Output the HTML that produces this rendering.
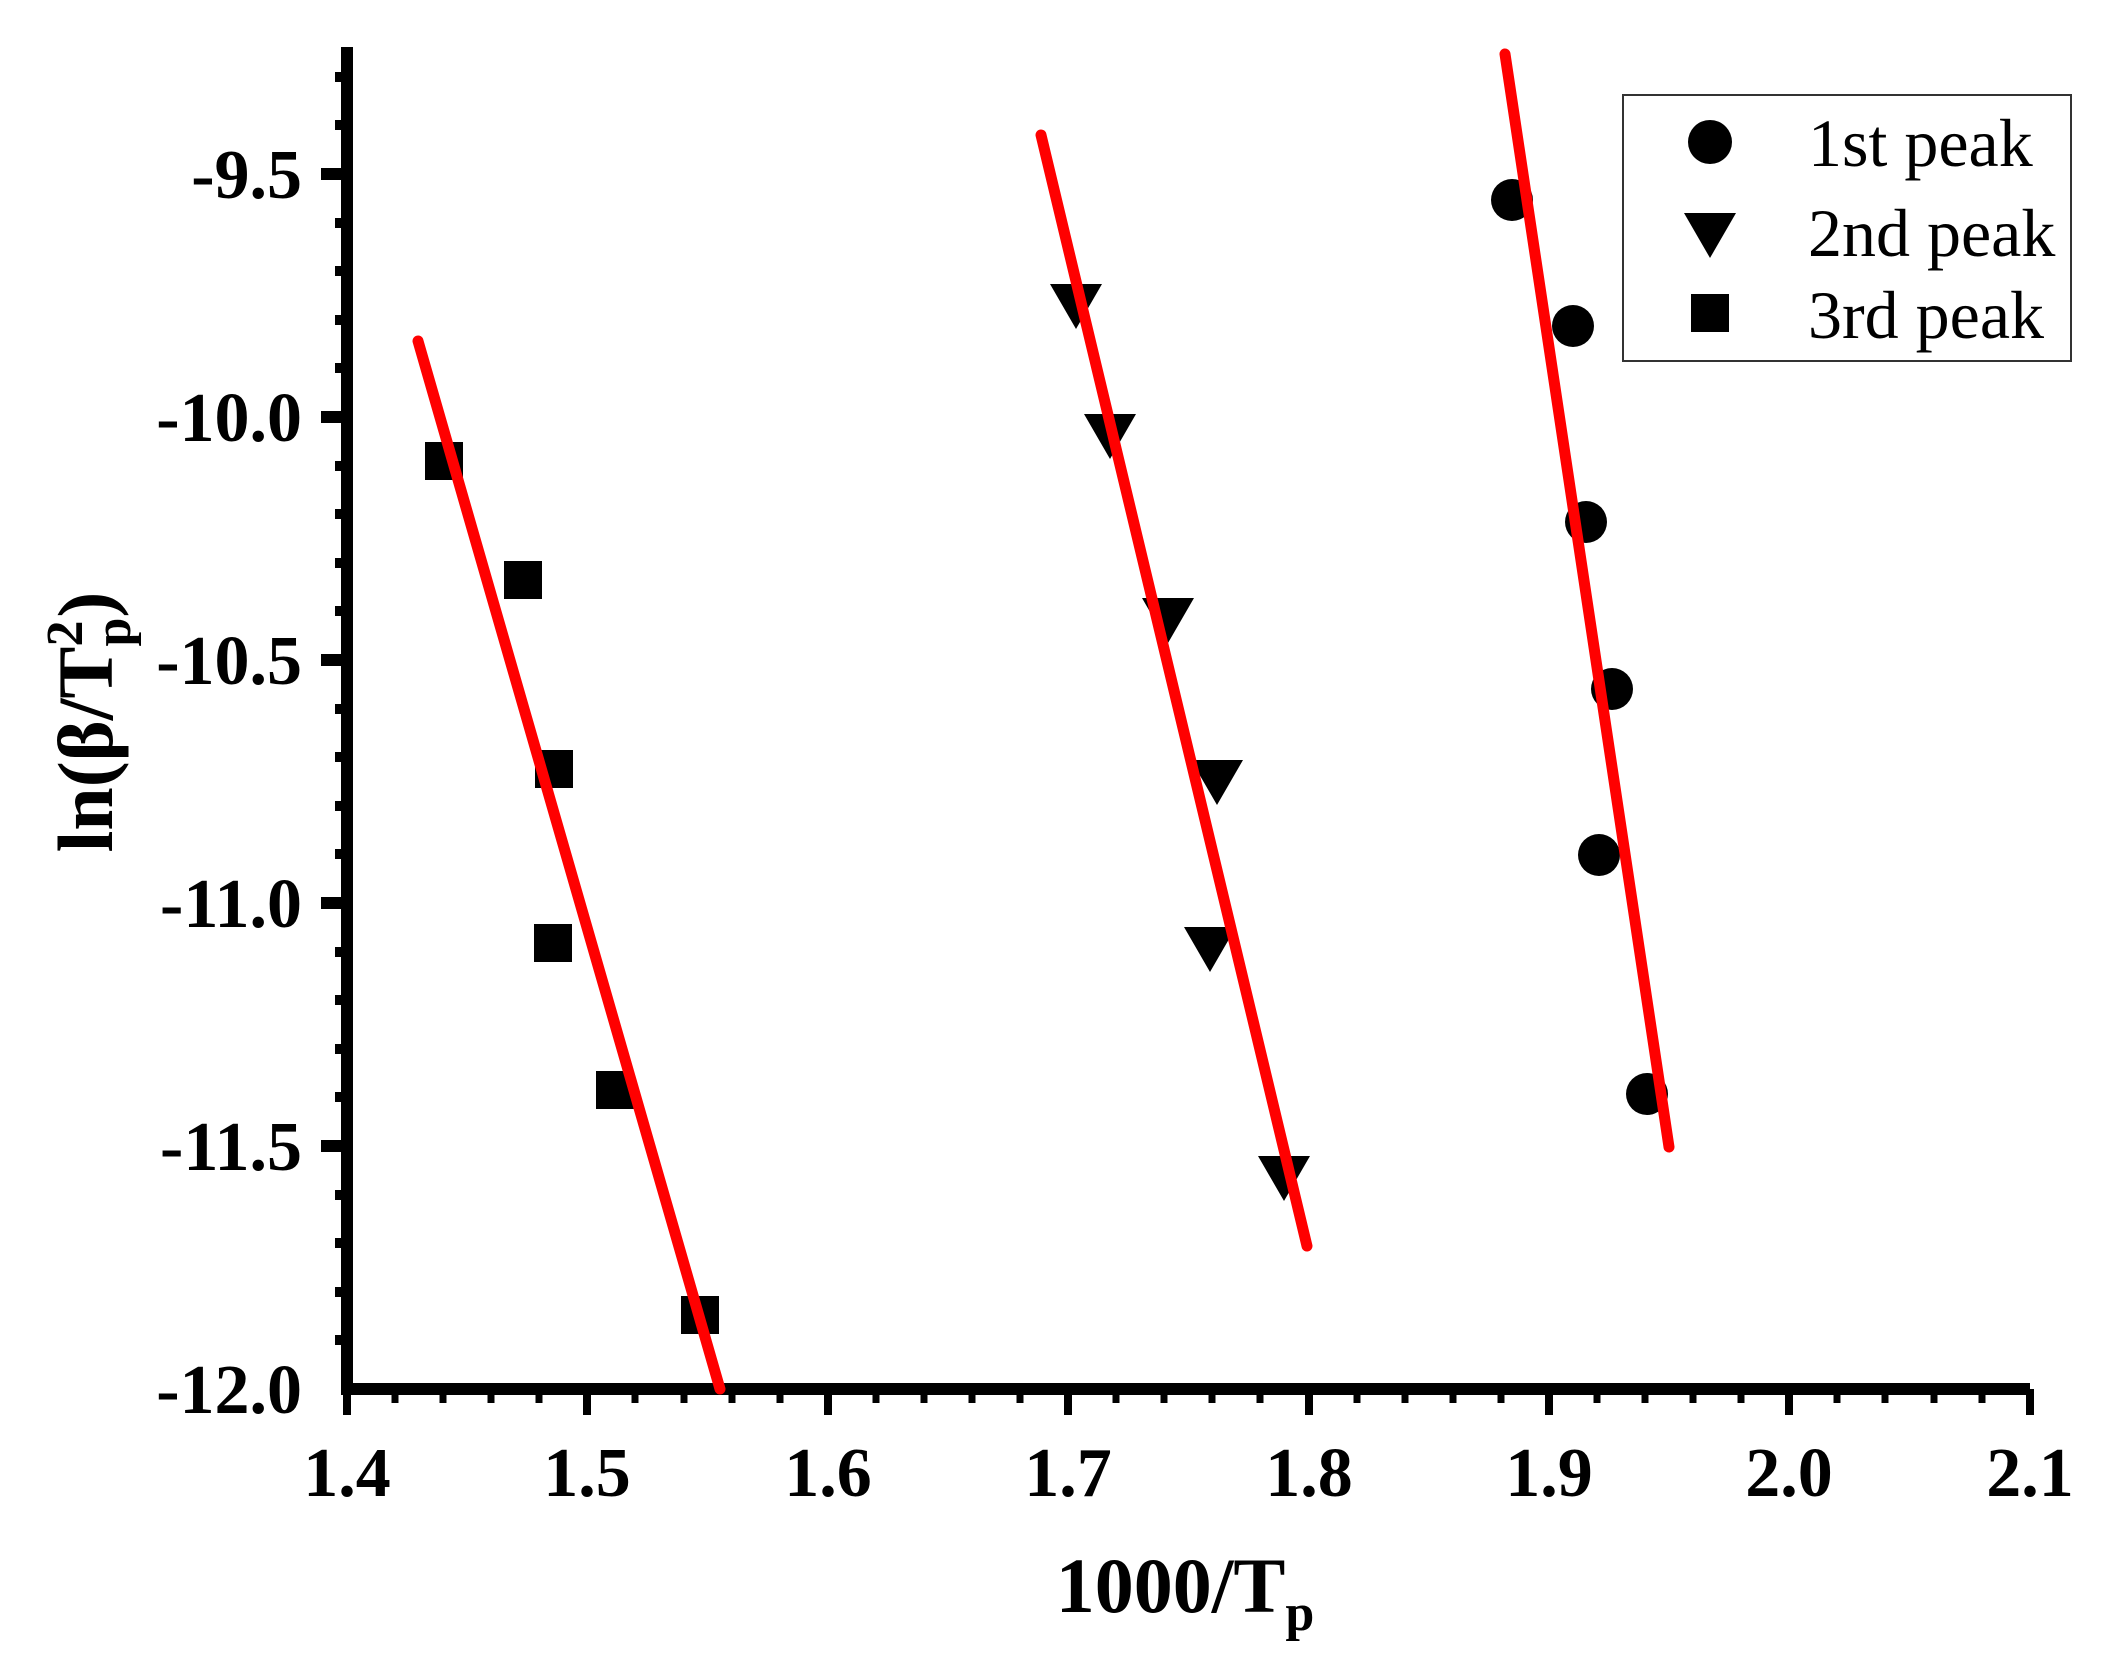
<!DOCTYPE html>
<html><head><style>html,body{margin:0;padding:0;background:#fff}svg{display:block}</style></head><body>
<svg width="2109" height="1654" viewBox="0 0 2109 1654" xmlns="http://www.w3.org/2000/svg" font-family="Liberation Serif, serif">
<rect width="2109" height="1654" fill="#fff"/>
<g stroke="#000">
<line x1="347" y1="47" x2="347" y2="1395" stroke-width="12"/>
<line x1="341" y1="1389" x2="2030" y2="1389" stroke-width="12"/>
<g stroke-width="12">
<line x1="321" y1="174" x2="347" y2="174"/><line x1="321" y1="417" x2="347" y2="417"/><line x1="321" y1="660" x2="347" y2="660"/><line x1="321" y1="903" x2="347" y2="903"/><line x1="321" y1="1146" x2="347" y2="1146"/>
</g>
<g stroke-width="10">
<line x1="335" y1="77" x2="347" y2="77"/><line x1="335" y1="125" x2="347" y2="125"/>
<line x1="335" y1="223" x2="347" y2="223"/><line x1="335" y1="271" x2="347" y2="271"/><line x1="335" y1="320" x2="347" y2="320"/><line x1="335" y1="368" x2="347" y2="368"/>
<line x1="335" y1="466" x2="347" y2="466"/><line x1="335" y1="514" x2="347" y2="514"/><line x1="335" y1="563" x2="347" y2="563"/><line x1="335" y1="611" x2="347" y2="611"/>
<line x1="335" y1="709" x2="347" y2="709"/><line x1="335" y1="757" x2="347" y2="757"/><line x1="335" y1="806" x2="347" y2="806"/><line x1="335" y1="854" x2="347" y2="854"/>
<line x1="335" y1="952" x2="347" y2="952"/><line x1="335" y1="1000" x2="347" y2="1000"/><line x1="335" y1="1049" x2="347" y2="1049"/><line x1="335" y1="1097" x2="347" y2="1097"/>
<line x1="335" y1="1195" x2="347" y2="1195"/><line x1="335" y1="1243" x2="347" y2="1243"/><line x1="335" y1="1292" x2="347" y2="1292"/><line x1="335" y1="1340" x2="347" y2="1340"/>
</g>
<g stroke-width="8">
<line x1="347" y1="1389" x2="347" y2="1415"/><line x1="587" y1="1389" x2="587" y2="1415"/><line x1="828" y1="1389" x2="828" y2="1415"/><line x1="1068" y1="1389" x2="1068" y2="1415"/><line x1="1309" y1="1389" x2="1309" y2="1415"/><line x1="1549" y1="1389" x2="1549" y2="1415"/><line x1="1789" y1="1389" x2="1789" y2="1415"/><line x1="2030" y1="1389" x2="2030" y2="1415"/>
</g>
<g stroke-width="7">
<line x1="395" y1="1389" x2="395" y2="1403"/><line x1="443" y1="1389" x2="443" y2="1403"/><line x1="491" y1="1389" x2="491" y2="1403"/><line x1="539" y1="1389" x2="539" y2="1403"/>
<line x1="635" y1="1389" x2="635" y2="1403"/><line x1="684" y1="1389" x2="684" y2="1403"/><line x1="732" y1="1389" x2="732" y2="1403"/><line x1="780" y1="1389" x2="780" y2="1403"/>
<line x1="876" y1="1389" x2="876" y2="1403"/><line x1="924" y1="1389" x2="924" y2="1403"/><line x1="972" y1="1389" x2="972" y2="1403"/><line x1="1020" y1="1389" x2="1020" y2="1403"/>
<line x1="1116" y1="1389" x2="1116" y2="1403"/><line x1="1164" y1="1389" x2="1164" y2="1403"/><line x1="1212" y1="1389" x2="1212" y2="1403"/><line x1="1260" y1="1389" x2="1260" y2="1403"/>
<line x1="1357" y1="1389" x2="1357" y2="1403"/><line x1="1405" y1="1389" x2="1405" y2="1403"/><line x1="1453" y1="1389" x2="1453" y2="1403"/><line x1="1501" y1="1389" x2="1501" y2="1403"/>
<line x1="1597" y1="1389" x2="1597" y2="1403"/><line x1="1645" y1="1389" x2="1645" y2="1403"/><line x1="1693" y1="1389" x2="1693" y2="1403"/><line x1="1741" y1="1389" x2="1741" y2="1403"/>
<line x1="1837" y1="1389" x2="1837" y2="1403"/><line x1="1885" y1="1389" x2="1885" y2="1403"/><line x1="1934" y1="1389" x2="1934" y2="1403"/><line x1="1982" y1="1389" x2="1982" y2="1403"/>
</g>
</g>
<g font-weight="bold" font-size="70" text-anchor="end">
<text x="302" y="198">-9.5</text><text x="302" y="441">-10.0</text><text x="302" y="684">-10.5</text><text x="302" y="927">-11.0</text><text x="302" y="1170">-11.5</text><text x="302" y="1413">-12.0</text>
</g>
<g font-weight="bold" font-size="70" text-anchor="middle">
<text x="347" y="1496">1.4</text><text x="587" y="1496">1.5</text><text x="828" y="1496">1.6</text><text x="1068" y="1496">1.7</text><text x="1309" y="1496">1.8</text><text x="1549" y="1496">1.9</text><text x="1789" y="1496">2.0</text><text x="2030" y="1496">2.1</text>
</g>
<text x="1185" y="1612" font-weight="bold" font-size="78" text-anchor="middle">1000/T<tspan font-size="52" dy="18">p</tspan></text>
<text transform="translate(112,722) rotate(-90)" font-weight="bold" font-size="78" text-anchor="middle">ln(β/T<tspan font-size="52" dy="-30">2</tspan><tspan font-size="52" dx="-26" dy="48">p</tspan><tspan dy="-18">)</tspan></text>
<g fill="#000">
<circle cx="1512" cy="200" r="21"/><circle cx="1573" cy="326" r="21"/><circle cx="1586" cy="522" r="21"/><circle cx="1612" cy="689" r="21"/><circle cx="1599" cy="855" r="21"/><circle cx="1647" cy="1094" r="21"/>
<path d="M1050,284h52l-26,45z M1084,414h52l-26,45z M1142,598h52l-26,45z M1191,760h52l-26,45z M1184,927h52l-26,45z M1258,1156h52l-26,45z"/>
<rect x="425" y="442" width="38" height="38"/><rect x="504" y="561" width="38" height="38"/><rect x="535" y="750" width="38" height="38"/><rect x="534" y="924" width="38" height="38"/><rect x="596" y="1071" width="38" height="38"/><rect x="681" y="1296" width="38" height="38"/>
</g>
<g stroke="#ff0000" stroke-width="11" stroke-linecap="round">
<line x1="1505" y1="54" x2="1669" y2="1147"/>
<line x1="1041" y1="135" x2="1307" y2="1246"/>
<line x1="418" y1="341" x2="720" y2="1389"/>
</g>
<rect x="1623" y="95" width="448" height="266" fill="#fff" stroke="#333" stroke-width="2"/>
<circle cx="1710" cy="142" r="22" fill="#000"/>
<path d="M1684,213h52l-26,45z" fill="#000"/>
<rect x="1691" y="294" width="38" height="38" fill="#000"/>
<g font-size="68">
<text x="1808" y="166">1st peak</text><text x="1808" y="256">2nd peak</text><text x="1808" y="338">3rd peak</text>
</g>
</svg>
</body></html>
